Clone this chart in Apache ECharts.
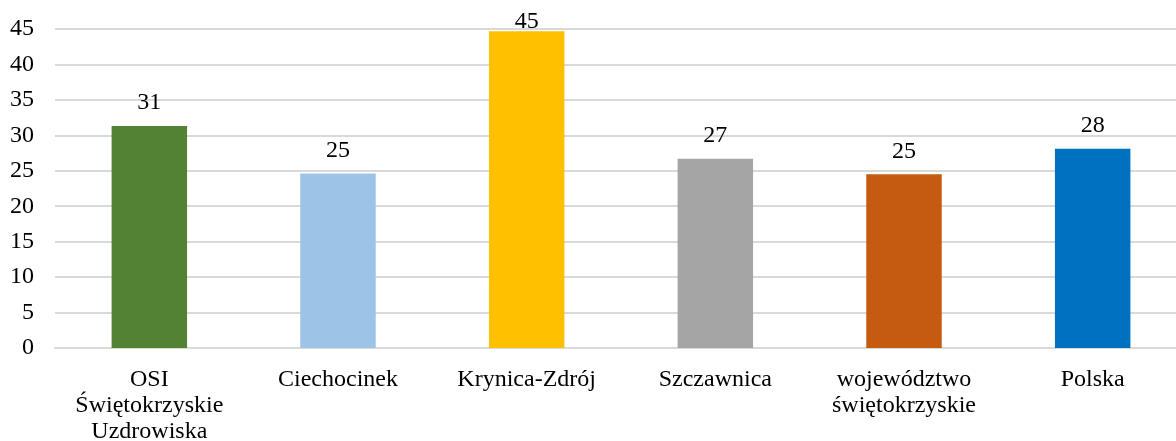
<!DOCTYPE html>
<html>
<head>
<meta charset="utf-8">
<script src="https://cdn.jsdelivr.net/npm/echarts@6/dist/echarts.min.js"></script>
<style>
  html, body { margin: 0; padding: 0; background: #fff; }
  #chart { width: 1176px; height: 441px; }
</style>
</head>
<body>
<div id="chart"></div>
<script>
const categories = [
    "OSI\nŚwiętokrzyskie\nUzdrowiska",
    "Ciechocinek",
    "Krynica-Zdrój",
    "Szczawnica",
    "województwo\nświętokrzyskie",
    "Polska",
];
const values = [31.3, 24.6, 44.7, 26.7, 24.5, 28.1];
const colors = ["#548235", "#9DC3E6", "#FFC000", "#A5A5A5", "#C55A11", "#0070C0"];

const font = "Liberation Serif, Times New Roman, serif";

echarts.init(document.querySelector("#chart")).setOption({
    animation: false,
    grid: {
        left: 55,
        width: 1132,
        top: 29,
        height: 319,
        outerBoundsMode: "none",
    },
    xAxis: {
        type: "category",
        data: categories,
        axisLine: { lineStyle: { color: "#D9D9D9", width: 2 } },
        axisTick: { show: false },
        axisLabel: {
            color: "#000",
            fontFamily: font,
            fontSize: 24,
            lineHeight: 26,
            margin: 19,
            interval: 0,
        },
    },
    yAxis: {
        type: "value",
        min: 0,
        max: 45,
        interval: 5,
        axisLine: { show: false },
        axisTick: { show: false },
        splitLine: { lineStyle: { color: "#D9D9D9", width: 2 } },
        axisLabel: {
            color: "#000",
            fontFamily: font,
            fontSize: 24,
            margin: 21,
        },
    },
    series: [
        {
            type: "bar",
            data: values.map((v, i) => ({
                value: v,
                itemStyle: { color: colors[i] },
                // the tallest label is squeezed against the top of the plot
                label: { distance: v > 43 ? -3 : 11 },
            })),
            barWidth: "40%",
            label: {
                show: true,
                position: "top",
                color: "#000",
                fontFamily: font,
                fontSize: 24,
                formatter: (p) => Math.round(p.value),
            },
        },
    ],
});
</script>
</body>
</html>
